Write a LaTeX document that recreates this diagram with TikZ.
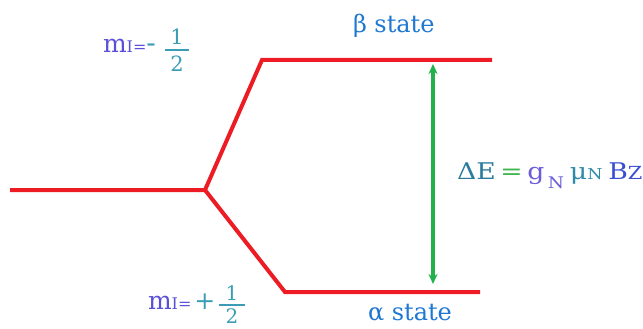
\documentclass[tikz,border=0pt]{standalone}
\usepackage{fontspec}
\setmainfont{DejaVu Serif}
\newfontfamily\tms{DejaVu Serif}
\usetikzlibrary{arrows.meta}
\definecolor{lvlred}{HTML}{ED1C24}
\definecolor{arrgreen}{HTML}{22B14C}
\definecolor{mcol}{HTML}{5A50D8}
\definecolor{tealc}{HTML}{3A9DB5}
\definecolor{statec}{HTML}{1E78D2}
\definecolor{decol}{HTML}{2B7C9C}
\definecolor{eqc}{HTML}{3DB54A}
\definecolor{gcol}{HTML}{6A5ED8}
\definecolor{mucol}{HTML}{2E8AA8}
\definecolor{bcol}{HTML}{3A4FD0}
\newcommand{\fs}[1]{\tms\fontsize{#1}{#1}\selectfont}
\begin{document}
\begin{tikzpicture}[x=1pt,y=-1pt,
  level/.style={draw=lvlred,line width=4pt,line join=miter},
  txt/.style={inner sep=0pt,outer sep=0pt,anchor=base west},
  frac/.style={inner sep=0pt,outer sep=0pt,anchor=base,text=tealc}]
\useasboundingbox (0,0) rectangle (643,329);
% level coordinates
\coordinate (L0) at (10,190);
\coordinate (J) at (205,190);
\coordinate (U1) at (262,60);
\coordinate (U2) at (492,60);
\coordinate (D1) at (285,292);
\coordinate (D2) at (480,292);
\draw[level] (L0) -- (J) -- (U1) -- (U2);
\draw[level] (J) -- (D1) -- (D2);
% arrow
\coordinate (AT) at (433,64);
\coordinate (AB) at (433,284);
\draw[draw=arrgreen,line width=4pt,{Stealth[length=10pt,width=9pt]}-{Stealth[length=10pt,width=9pt]}] (AT) -- (AB);
% state labels
\node[txt,text=statec,font=\fs{24}] (beta) at (353,33) {β state};
\node[txt,text=statec,font=\fs{24}] (alpha) at (368,320) {α state};
% formula
\node[txt,font=\fs{23}] (de) at (457,179) {\scalebox{1.16}[1]{{\color{decol}ΔE}\hspace{4pt}{\color{eqc}=}\hspace{4pt}{\color{gcol}g\hspace{3pt}\raisebox{-9pt}{\fs{16}N}}\hspace{5pt}{\color{mucol}μ{\fs{15}N}}\hspace{5pt}{\color{bcol}B{\fs{18}Z}}}};
% upper m_I
\node[txt,font=\fs{25}] (mu) at (103,53) {{\color{mcol}m{\fs{16}I=}}{\color{tealc}\fs{28}-}};
\node[frac,font=\fs{21}] (u1) at (177,45) {1};
\node[frac,font=\fs{21}] (u2) at (177,71) {2};
\draw[tealc,line width=1.2pt] (165,50) -- (189,50);
% lower m_I
\node[txt,font=\fs{25}] (ml) at (148,309) {{\color{mcol}m{\fs{16}I=}}\hspace{3pt}{\color{tealc}+}};
\node[frac,font=\fs{20}] (l1) at (232,300) {1};
\node[frac,font=\fs{20}] (l2) at (232,323) {2};
\draw[tealc,line width=1.2pt] (219,305) -- (245,305);
\end{tikzpicture}
\end{document}
